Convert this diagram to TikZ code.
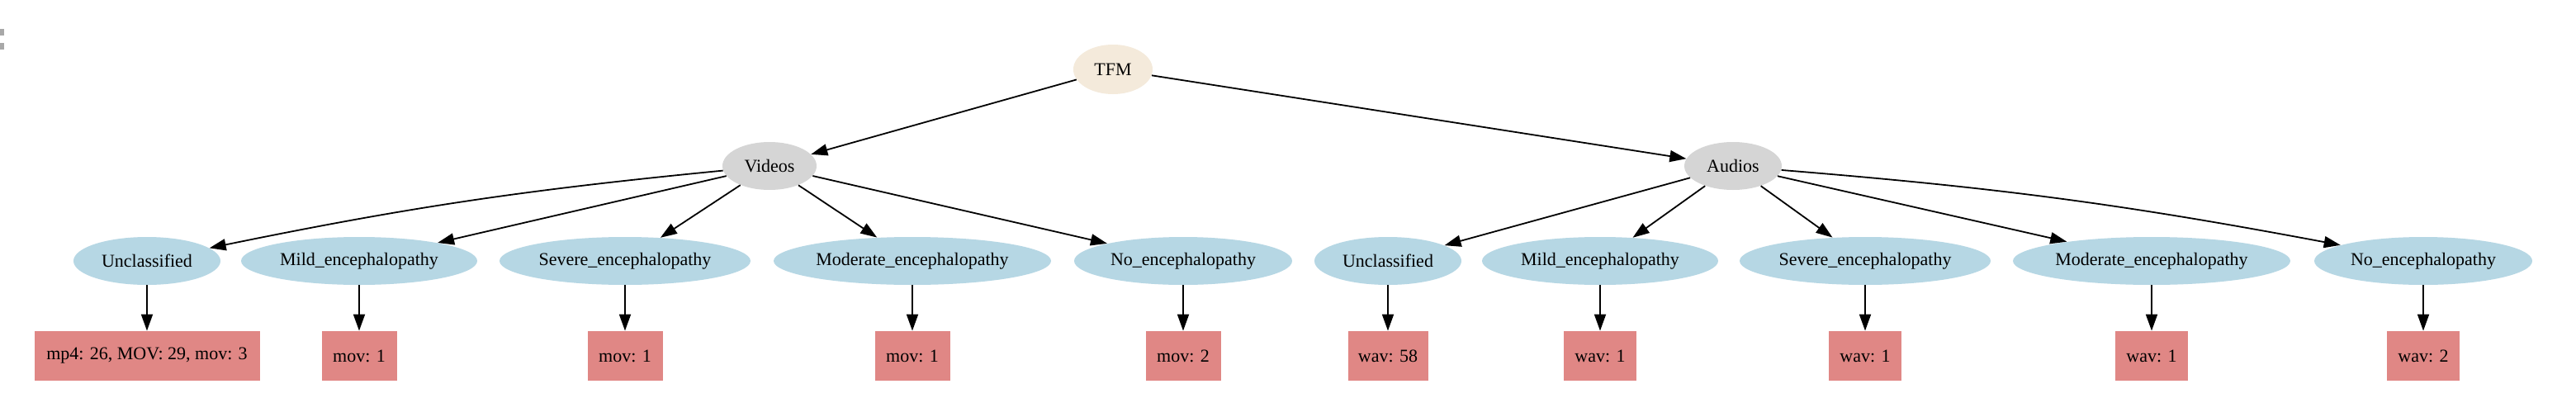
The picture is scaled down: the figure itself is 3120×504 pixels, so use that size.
\documentclass[tikz,border=0pt]{standalone}
\usepackage{fontspec}
\setmainfont{Liberation Serif}
\usetikzlibrary{arrows.meta,shapes.geometric}
\definecolor{tfmfill}{HTML}{F4EADB}
\definecolor{midfill}{HTML}{D5D5D5}
\definecolor{leaffill}{HTML}{B6D7E4}
\definecolor{boxfill}{HTML}{E08785}
\definecolor{markgray}{HTML}{A8A8A8}
\begin{document}
\begin{tikzpicture}[x=0.5pt,y=-0.5pt,
  base/.style={font=\fontsize{11}{13}\selectfont, inner sep=0pt, text=black},
  rootnode/.style={base, ellipse, fill=tfmfill, minimum width=48pt, minimum height=30pt},
  midnode/.style={base, ellipse, fill=midfill, minimum height=29pt},
  catnode/.style={base, ellipse, fill=leaffill, minimum height=29pt},
  countbox/.style={base, rectangle, fill=boxfill, minimum height=30pt},
  conn/.style={-{Triangle[length=10pt,width=7pt]}, line width=0.9pt, black}]
\useasboundingbox (0,0) rectangle (3120,504);
\fill[white] (0,0) rectangle (3120,504);
\fill[markgray] (0,35) rectangle (5,43);
\fill[markgray] (0,52) rectangle (5,60);

\node[rootnode] (tfm) at (1348,84) {TFM};
\node[midnode, minimum width=57pt] (vid) at (932,201) {Videos};
\node[midnode, minimum width=59pt] (aud) at (2099,201) {Audios};

\node[catnode, minimum width=89pt]  (vunc) at (178,316)  {Unclassified};
\node[catnode, minimum width=143pt] (vmil) at (435,316)  {Mild\_encephalopathy};
\node[catnode, minimum width=152pt] (vsev) at (757,316)  {Severe\_encephalopathy};
\node[catnode, minimum width=168pt] (vmod) at (1105,316) {Moderate\_encephalopathy};
\node[catnode, minimum width=132pt] (vno)  at (1433,316) {No\_encephalopathy};

\node[catnode, minimum width=89pt]  (aunc) at (1681,316) {Unclassified};
\node[catnode, minimum width=143pt] (amil) at (1938,316) {Mild\_encephalopathy};
\node[catnode, minimum width=152pt] (asev) at (2259,316) {Severe\_encephalopathy};
\node[catnode, minimum width=168pt] (amod) at (2606,316) {Moderate\_encephalopathy};
\node[catnode, minimum width=132pt] (ano)  at (2935,316) {No\_encephalopathy};

\node[countbox, minimum width=136.5pt] (bvunc) at (178,431)  {mp4: 26, MOV: 29, mov: 3};
\node[countbox, minimum width=45.5pt]  (bvmil) at (435,431)  {mov: 1};
\node[countbox, minimum width=45.5pt]  (bvsev) at (757,431)  {mov: 1};
\node[countbox, minimum width=45.5pt]  (bvmod) at (1105,431) {mov: 1};
\node[countbox, minimum width=45.5pt]  (bvno)  at (1433,431) {mov: 2};

\node[countbox, minimum width=48.5pt] (baunc) at (1681,431) {wav: 58};
\node[countbox, minimum width=44pt]   (bamil) at (1938,431) {wav: 1};
\node[countbox, minimum width=44pt]   (basev) at (2259,431) {wav: 1};
\node[countbox, minimum width=44pt]   (bamod) at (2606,431) {wav: 1};
\node[countbox, minimum width=44pt]   (bano)  at (2935,431) {wav: 2};

\draw[conn] (tfm) -- (vid);
\draw[conn] (tfm) -- (aud);

\draw[conn] (vid) to[bend right=3] (vunc);
\draw[conn] (vid) -- (vmil);
\draw[conn] (vid) -- (vsev);
\draw[conn] (vid) -- (vmod);
\draw[conn] (vid) -- (vno);

\draw[conn] (aud) -- (aunc);
\draw[conn] (aud) -- (amil);
\draw[conn] (aud) -- (asev);
\draw[conn] (aud) -- (amod);
\draw[conn] (aud) to[bend left=3] (ano);

\draw[conn] (vunc) -- (bvunc);
\draw[conn] (vmil) -- (bvmil);
\draw[conn] (vsev) -- (bvsev);
\draw[conn] (vmod) -- (bvmod);
\draw[conn] (vno) -- (bvno);
\draw[conn] (aunc) -- (baunc);
\draw[conn] (amil) -- (bamil);
\draw[conn] (asev) -- (basev);
\draw[conn] (amod) -- (bamod);
\draw[conn] (ano) -- (bano);
\end{tikzpicture}
\end{document}
